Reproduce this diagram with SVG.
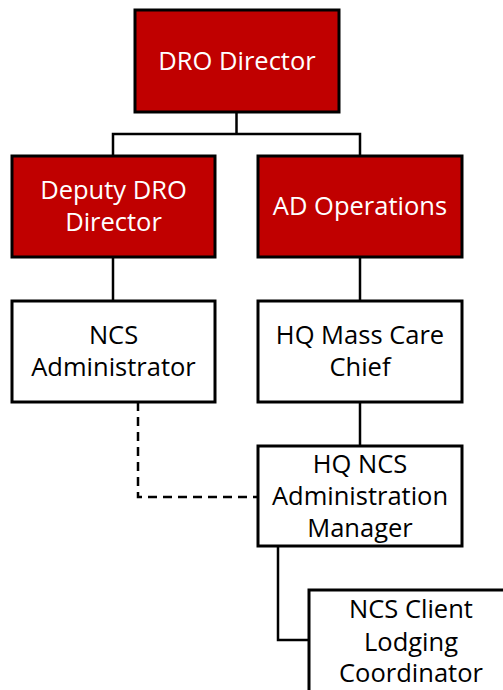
<svg xmlns="http://www.w3.org/2000/svg" width="503" height="690" viewBox="0 0 503 690">
<style>
.red{fill:#C00000;stroke:#000;stroke-width:3}
.wht{fill:#fff;stroke:#000;stroke-width:3}
text{font-family:"Open Sans","Liberation Sans",sans-serif;font-size:25.5px;text-anchor:middle}
.lt{fill:#fff}
.dk{fill:#000}
.ln{fill:none;stroke:#000;stroke-width:2.5}
.dash{stroke-dasharray:9 6}
</style>
<rect width="503" height="690" fill="#fff"/>
<g id="connectors">
<path class="ln" d="M236.5,112 V134 M113,156 V134 H360 V156"/>
<path class="ln" d="M113,257 V301"/>
<path class="ln" d="M360,257 V301"/>
<path class="ln" d="M360,402 V446"/>
<path class="ln dash" d="M138,402 V497 H258"/>
<path class="ln" d="M278,546 V640 H309"/>
</g>
<g id="dro-director">
<rect class="red" x="135" y="10" width="204" height="102"/>
<text class="lt" x="237" y="70">DRO Director</text>
</g>
<g id="deputy-dro-director">
<rect class="red" x="12" y="156" width="203" height="101"/>
<text class="lt" x="113.5" y="199">Deputy DRO</text>
<text class="lt" x="113.5" y="231">Director</text>
</g>
<g id="ad-operations">
<rect class="red" x="258" y="156" width="204" height="101"/>
<text class="lt" x="360" y="215">AD Operations</text>
</g>
<g id="ncs-administrator">
<rect class="wht" x="12" y="301" width="203" height="101"/>
<text class="dk" x="113.5" y="344">NCS</text>
<text class="dk" x="113.5" y="376">Administrator</text>
</g>
<g id="hq-mass-care-chief">
<rect class="wht" x="258" y="301" width="204" height="101"/>
<text class="dk" x="360" y="344">HQ Mass Care</text>
<text class="dk" x="360" y="376">Chief</text>
</g>
<g id="hq-ncs-admin-manager">
<rect class="wht" x="258" y="446" width="204" height="100"/>
<text class="dk" x="360" y="473">HQ NCS</text>
<text class="dk" x="360" y="505">Administration</text>
<text class="dk" x="360" y="537">Manager</text>
</g>
<g id="ncs-client-lodging-coordinator">
<rect class="wht" x="309" y="590" width="204" height="110"/>
<text class="dk" x="411" y="618">NCS Client</text>
<text class="dk" x="411" y="651">Lodging</text>
<text class="dk" x="411" y="682">Coordinator</text>
</g>
</svg>
